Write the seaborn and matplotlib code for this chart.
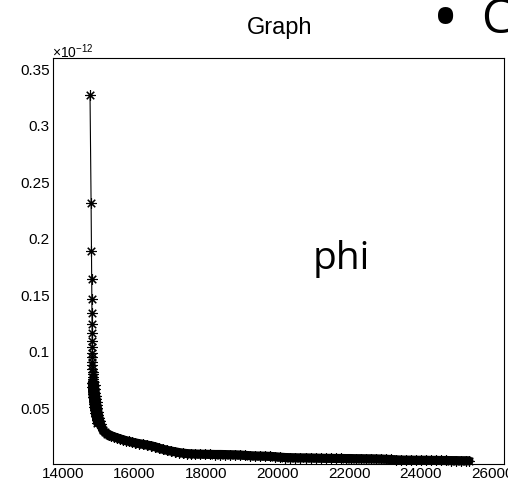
import matplotlib
matplotlib.use("Agg")
import matplotlib.pyplot as plt
from matplotlib.ticker import FixedLocator, FixedFormatter, MultipleLocator
import pandas as pd
import seaborn as sns

# ---- data (phi in units of 1e-12) ----
# first, well separated points of the graph
x_head = [14755, 14785, 14795, 14800, 14803, 14806, 14808, 14810, 14812, 14814,
          14816, 14818, 14820, 14822, 14824, 14826, 14828, 14830, 14832, 14834]
phi_head = [0.3265, 0.2310, 0.1885, 0.1632, 0.1460, 0.1333, 0.1234, 0.1155, 0.1088, 0.1032,
            0.0984, 0.0942, 0.0906, 0.0872, 0.0843, 0.0816, 0.0792, 0.0770, 0.0749, 0.0730]

# steep, densely packed section
x_steep = [14815, 14885, 14820, 14893, 14826, 14902, 14834, 14914, 14843, 14927,
           14853, 14938, 14864, 14950, 14877, 14963, 14891, 14977, 14906, 14992,
           14923, 15008, 14942, 15027, 14964, 15050]
phi_steep = [0.0712, 0.0695, 0.0678, 0.0662, 0.0647, 0.0632, 0.0617, 0.0603, 0.0589, 0.0575,
             0.0561, 0.0547, 0.0533, 0.0519, 0.0505, 0.0491, 0.0477, 0.0463, 0.0449, 0.0435,
             0.0421, 0.0407, 0.0393, 0.0379, 0.0365, 0.0351]

# knee of the curve
x_knee = [15119, 15175, 15231, 15287, 15343, 15427, 15510, 15594, 15678, 15762,
          15846, 15930, 16014, 16126, 16238, 16350, 16461, 16573, 16685, 16797,
          16909, 17021, 17133, 17245, 17356, 17468, 17580]
phi_knee = [0.0297, 0.0280, 0.0266, 0.0258, 0.0249, 0.0240, 0.0231, 0.0222, 0.0214, 0.0206,
            0.0200, 0.0193, 0.0187, 0.0180, 0.0174, 0.0167, 0.0161, 0.0152, 0.0140, 0.0130,
            0.0121, 0.0114, 0.0108, 0.0101, 0.0096, 0.0092, 0.0090]

# long flat tail
x_tail = [17700, 17840, 17980, 18120, 18260, 18400, 18540, 18680, 18820, 18960,
          19100, 19240, 19380, 19520, 19660, 19800, 19940, 20080, 20220, 20360,
          20500, 20640, 20780, 20920, 21060, 21200, 21340, 21480, 21620, 21760,
          21900, 22040, 22180, 22320, 22460, 22600, 22740, 22880, 23020, 23160,
          23300, 23440, 23580, 23720, 23860, 24000, 24140, 24280, 24420, 24560,
          24700, 24840, 24980, 25120, 25260, 25350]
phi_tail = [0.0088, 0.0087, 0.0086, 0.0085, 0.0084, 0.0084, 0.0083, 0.0082, 0.0081, 0.0079,
            0.0076, 0.0073, 0.0071, 0.0070, 0.0069, 0.0067, 0.0064, 0.0060, 0.0057, 0.0056,
            0.0055, 0.0054, 0.0054, 0.0053, 0.0052, 0.0051, 0.0050, 0.0050, 0.0049, 0.0049,
            0.0048, 0.0048, 0.0047, 0.0047, 0.0046, 0.0046, 0.0045, 0.0044, 0.0042, 0.0040,
            0.0037, 0.0035, 0.0034, 0.0034, 0.0033, 0.0033, 0.0033, 0.0032, 0.0032, 0.0031,
            0.0031, 0.0030, 0.0030, 0.0029, 0.0029, 0.0028]

x_ticks = [14000, 16000, 18000, 20000, 22000, 24000, 26000]
x_tick_labels = ["14000", "16000", "18000", "20000", "22000", "24000", "26000"]
y_ticks = [0.05, 0.10, 0.15, 0.20, 0.25, 0.30, 0.35]
y_tick_labels = ["0.05", "0.1", "0.15", "0.2", "0.25", "0.3", "0.35"]

# ---- styling ----
sns.set_theme(style="white")
plt.rcParams["font.family"] = ["Liberation Sans", "DejaVu Sans"]
plt.rcParams["mathtext.fontset"] = "custom"
plt.rcParams["mathtext.rm"] = "Liberation Sans"
plt.rcParams["mathtext.it"] = "Liberation Sans:italic"

W, H = 508, 485
fig = plt.figure(figsize=(W / 100, H / 100), dpi=100)
fig.patch.set_facecolor("white")
left, right, top, bottom = 53, 504, 59, 465
ax = fig.add_axes([left / W, 1 - bottom / H, (right - left) / W, (bottom - top) / H])
ax.set_facecolor("white")

graph = pd.DataFrame({"x": x_head + x_steep + x_knee + x_tail,
                      "phi": phi_head + phi_steep + phi_knee + phi_tail})
dense = pd.DataFrame({"x": x_steep + x_knee + x_tail,
                      "phi": phi_steep + phi_knee + phi_tail})

# overlapping markers of the dense section form a solid band
sns.lineplot(data=dense, x="x", y="phi", sort=False, estimator=None, color="black",
             lw=6.6, solid_capstyle="round", solid_joinstyle="round", ax=ax, clip_on=False)
sns.lineplot(data=graph, x="x", y="phi", sort=False, estimator=None, color="black",
             lw=0.8, marker=(8, 2, 0), markersize=7.5, markeredgewidth=0.8,
             markeredgecolor="black", ax=ax, clip_on=False)

ax.set_xlim(13720, 26330)
ax.set_ylim(0, 0.359)
ax.set_xlabel("")
ax.set_ylabel("")

ax.xaxis.set_major_locator(FixedLocator(x_ticks))
ax.xaxis.set_major_formatter(FixedFormatter(x_tick_labels))
ax.xaxis.set_minor_locator(MultipleLocator(500))
ax.yaxis.set_major_locator(FixedLocator(y_ticks))
ax.yaxis.set_major_formatter(FixedFormatter(y_tick_labels))
ax.yaxis.set_minor_locator(MultipleLocator(0.01))

for s in ax.spines.values():
    s.set_visible(True)
    s.set_color("black")
    s.set_linewidth(0.8)

ax.tick_params(axis="both", which="both", direction="in", color="black",
               width=0.75, top=False, right=False, labelsize=11, labelcolor="black")
ax.tick_params(axis="y", which="major", length=10.5, pad=2.2)
ax.tick_params(axis="y", which="minor", length=5)
ax.tick_params(axis="x", which="major", length=9.4, pad=1.5)
ax.tick_params(axis="x", which="minor", length=4.3)

def fx(px):
    return px / W

def fy(py):
    return 1 - py / H

fig.text(fx(280), fy(34), "Graph", ha="center", va="baseline", fontsize=17, color="black")
fig.text(fx(52), fy(58), r"$\times$10$^{-12}$", ha="left", va="baseline", fontsize=10, color="black")
fig.text(fx(313), fy(269), "phi", ha="left", va="baseline", fontsize=28,
         family=["Open Sans", "DejaVu Sans"], color="black")
fig.text(fx(432), fy(42), "\u2022", ha="left", va="baseline", fontsize=52,
         family=["Open Sans", "DejaVu Sans"], color="black")
fig.text(fx(481), fy(33), "C", ha="left", va="baseline", fontsize=34,
         family=["Open Sans", "DejaVu Sans"], color="black")

fig.savefig("out.png", dpi=100, facecolor="white")
